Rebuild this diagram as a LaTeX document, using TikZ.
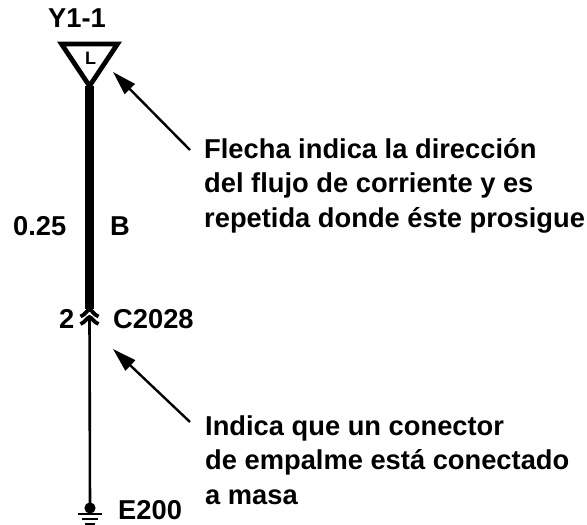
\documentclass[tikz,border=0pt]{standalone}
\usepackage{fontspec}
\setmainfont{Liberation Sans}
\usetikzlibrary{arrows.meta}
\tikzset{
  lbl/.style={font=\fontsize{27.3}{34.5}\selectfont\bfseries, inner sep=0pt, anchor=base west, align=left, text=black},
  pointer/.style={draw=black, line width=2.4pt, -{Triangle[length=24pt,width=14pt,inset=0pt]}},
  wire/.style={draw=black, line width=2.6pt},
}
\begin{document}
\begin{tikzpicture}[x=1pt,y=-1pt]
\useasboundingbox (0,0) rectangle (587,525);
\fill[white] (0,0) rectangle (587,525);
% labels
\node[lbl] (y1) at (48,27) {Y1-1};
\node[lbl,font=\fontsize{18}{18}\selectfont\bfseries] (l) at (85,64) {L};
\node[lbl] (t1) at (204,227) {Flecha indica la dirección\\del flujo de corriente y es\\repetida donde éste prosigue};
\node[lbl] (v) at (13,235) {0.25};
\node[lbl] (b) at (110,235) {B};
\node[lbl] (n2) at (59,328) {2};
\node[lbl] (c) at (113,328) {C2028};
\node[lbl] (t2) at (205,504) {Indica que un conector\\de empalme está conectado\\a masa};
\node[lbl] (e) at (118,519.5) {E200};
% terminal
\coordinate (apex) at (89.5,86);
\coordinate (tl) at (61.5,44);
\coordinate (tr) at (117.5,44);
\coordinate (cu) at (89.5,309);
\coordinate (cl) at (89.5,316);
\coordinate (gd) at (90,508);
\draw[line width=4.8pt, line join=miter] (tl) -- (tr) -- (apex) -- cycle;
\draw[line width=9pt] (apex) -- (cu);
% connector chevrons
\draw[line width=3.8pt] (80.5,316.5) .. controls (85,315) and (87,310) .. (89.5,309.5) .. controls (92,310) and (94,315) .. (98.5,316.5);
\draw[line width=3.8pt] (80.5,324) .. controls (85,322.5) and (87,317.5) .. (89.5,317) .. controls (92,317.5) and (94,322.5) .. (98.5,324);
\draw[wire] (cl) -- (gd);
% ground
\fill (gd) circle (5.6pt);
\draw[line width=2pt] (78,513.5) -- (102,513.5) (82,518.5) -- (98,518.5) (85,523.5) -- (95,523.5);
% arrows
\coordinate (a1s) at (190,150);
\coordinate (a1e) at (113,72);
\coordinate (a2s) at (190,422);
\coordinate (a2e) at (113,349);
\draw[pointer] (a1s) -- (a1e);
\draw[pointer] (a2s) -- (a2e);
\end{tikzpicture}
\end{document}
